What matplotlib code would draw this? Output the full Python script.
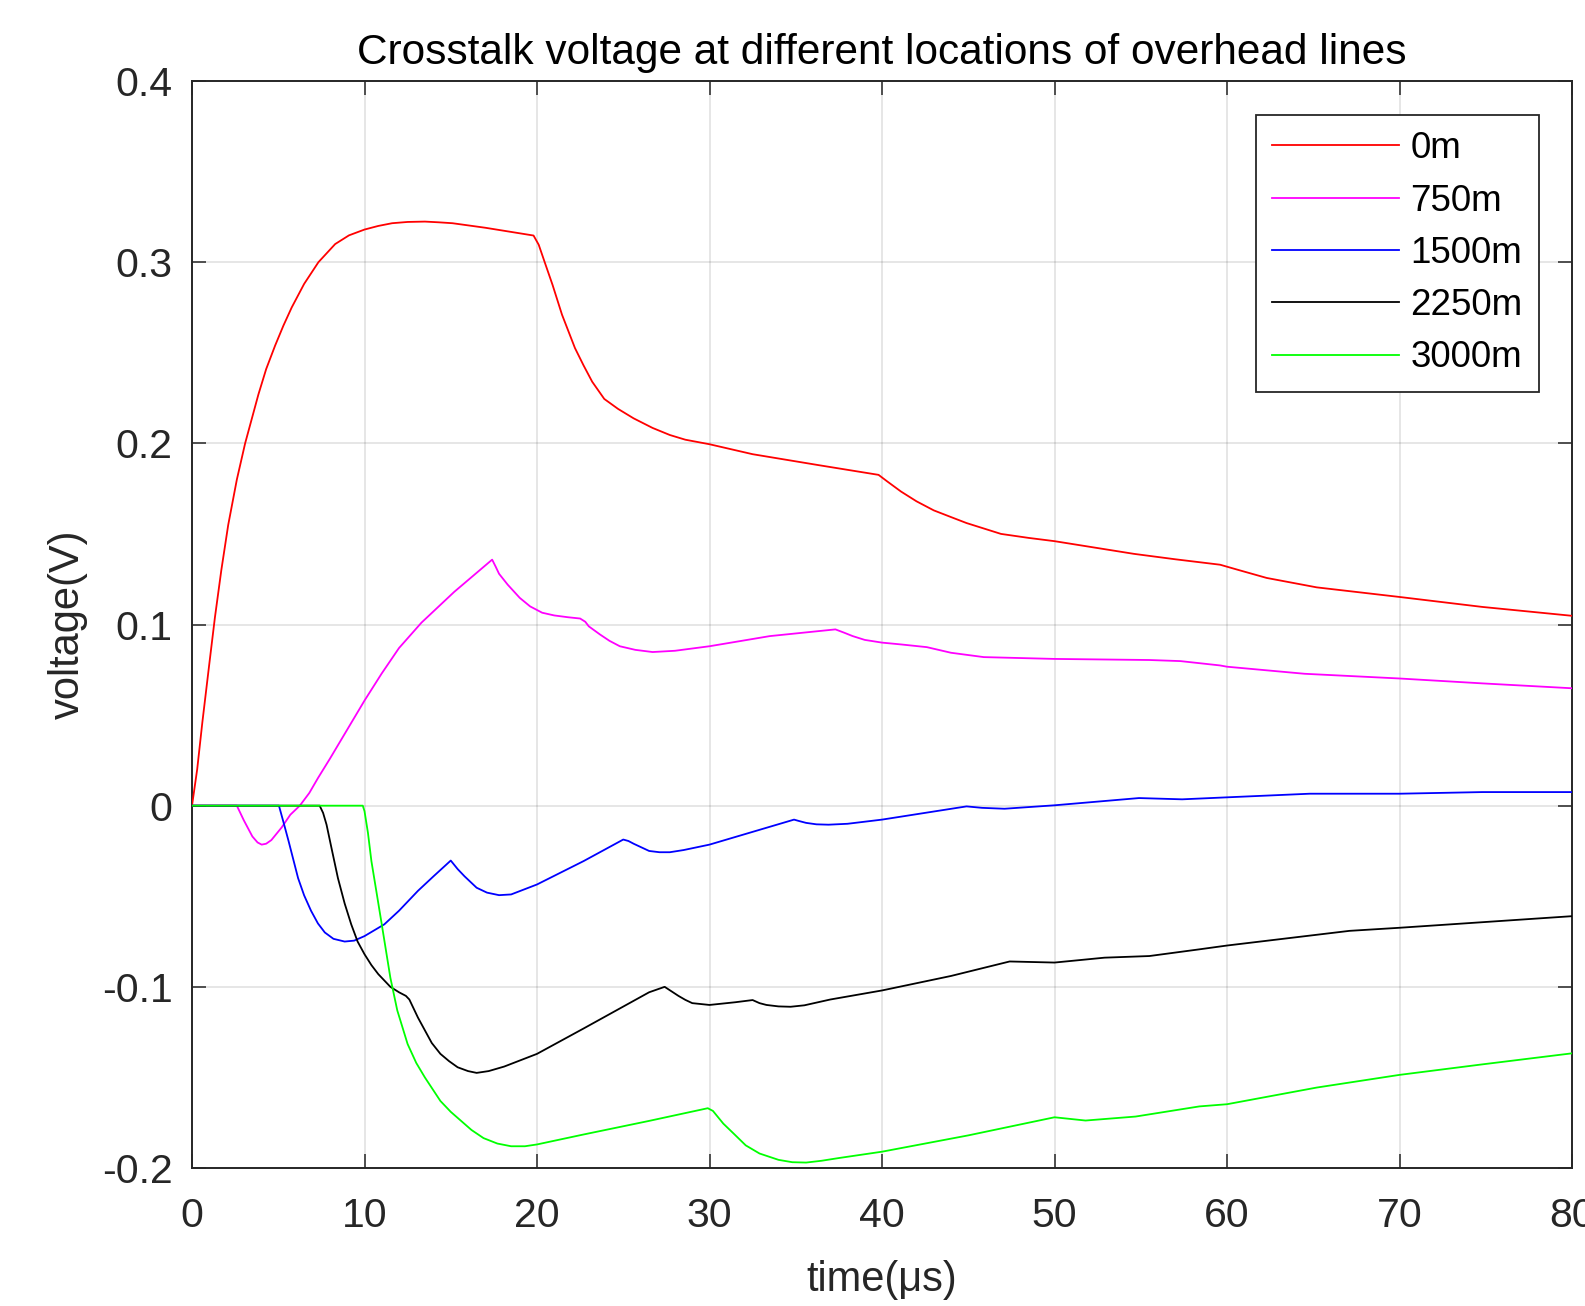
import matplotlib
matplotlib.use("Agg")
import matplotlib.pyplot as plt
from matplotlib.ticker import FixedLocator, FixedFormatter

plt.rcParams['font.family'] = ['Liberation Sans', 'DejaVu Sans']

# ---------------- data ----------------
t_0m = [0, 0.3, 0.6, 1.0, 1.33, 1.7, 2.1, 2.6, 3.08, 3.85, 4.3, 4.82, 5.3, 5.78, 6.5, 7.33,
        8.3, 9.1, 10, 10.8, 11.6, 12.5, 13.5, 14.3, 15.1, 17.0, 19.8, 20.1, 20.5, 20.9,
        21.45, 22.2, 22.7, 23.2, 23.9, 24.7, 25.6, 26.7, 27.7, 28.6, 30, 32.5, 36.3, 39.8,
        40.3, 41.1, 42.0, 43, 44, 44.9, 46.9, 48.5, 50, 54.6, 57, 59.6, 60.7, 62.3, 65.2,
        70, 74.8, 80]
v_0m = [0, 0.02, 0.046, 0.078, 0.104, 0.13, 0.155, 0.18, 0.2, 0.227, 0.241, 0.254, 0.265,
        0.275, 0.288, 0.30, 0.31, 0.3148, 0.318, 0.320, 0.3215, 0.3222, 0.3224, 0.322,
        0.3215, 0.319, 0.3147, 0.3096, 0.2985, 0.2875, 0.271, 0.2526, 0.243, 0.234, 0.2245,
        0.219, 0.2138, 0.2085, 0.2046, 0.202, 0.1995, 0.194, 0.188, 0.1826, 0.179, 0.1734,
        0.168, 0.163, 0.1593, 0.156, 0.150, 0.1478, 0.146, 0.139, 0.136, 0.133, 0.130,
        0.1257, 0.1205, 0.1152, 0.1097, 0.1048]

t_750m = [0, 2.6, 2.8, 3.0, 3.5, 3.8, 4.04, 4.3, 4.6, 5.2, 5.7, 6.25, 6.8, 7.3, 8, 9, 10,
          11, 12, 13.3, 15.2, 17.4, 17.6, 17.8, 18.3, 19.0, 19.6, 20.3, 21, 21.8, 22.5,
          22.8, 23.0, 23.65, 24.2, 24.8, 25.7, 26.7, 28, 30, 33.5, 37.3, 37.8, 38.3, 39,
          40, 41.1, 42.1, 42.6, 44, 45.9, 50, 55.5, 57.3, 59.6, 60, 64.5, 70, 74.8, 80]
v_750m = [0, 0, -0.004, -0.008, -0.017, -0.0203, -0.0215, -0.021, -0.019, -0.012, -0.005,
          0, 0.007, 0.0152, 0.026, 0.042, 0.058, 0.073, 0.087, 0.101, 0.118, 0.1358, 0.132,
          0.128, 0.122, 0.1147, 0.110, 0.1065, 0.105, 0.104, 0.1033, 0.1015, 0.099, 0.0945,
          0.091, 0.088, 0.086, 0.0848, 0.0855, 0.088, 0.0936, 0.0973, 0.0955, 0.0936,
          0.0915, 0.090, 0.089, 0.088, 0.0875, 0.0844, 0.082, 0.081, 0.0804, 0.0798,
          0.0774, 0.0767, 0.0728, 0.0702, 0.0675, 0.0648]

t_1500m = [0, 5.04, 5.3, 5.6, 6.15, 6.5, 6.9, 7.3, 7.7, 8.2, 8.85, 9.4, 10, 11.15, 12,
           13.1, 14, 15.0, 15.4, 15.8, 16.5, 17.1, 17.8, 18.5, 20, 22.7, 25.0, 25.3, 25.6,
           26.5, 27.1, 27.7, 28.5, 30, 34.9, 35.2, 35.6, 36.2, 36.9, 38, 40, 44.9, 45.8,
           47.1, 50, 54.9, 57.4, 60, 64.8, 70, 74.8, 80]
v_1500m = [0, 0, -0.009, -0.0196, -0.040, -0.0495, -0.058, -0.065, -0.070, -0.0735, -0.075,
           -0.0745, -0.072, -0.0655, -0.058, -0.047, -0.039, -0.0303, -0.035, -0.039,
           -0.0453, -0.048, -0.0494, -0.049, -0.0435, -0.0306, -0.0187, -0.0195, -0.021,
           -0.025, -0.0257, -0.0257, -0.0245, -0.0215, -0.0077, -0.0085, -0.0095, -0.0103,
           -0.0105, -0.010, -0.0077, -0.0004, -0.0012, -0.0017, 0.0002, 0.0042, 0.0035,
           0.0046, 0.0066, 0.0066, 0.0075, 0.0075]

t_2250m = [0, 7.4, 7.6, 7.8, 8.1, 8.46, 8.85, 9.23, 9.6, 10, 10.4, 10.8, 11.5, 12.0, 12.4,
           12.6, 12.8, 13.1, 13.5, 13.9, 14.4, 14.9, 15.4, 16.0, 16.5, 17.2, 18.1, 20, 22.7,
           26.5, 27.4, 27.8, 28.2, 28.6, 29, 30, 31.5, 32.5, 32.9, 33.3, 34.0, 34.7, 35.5,
           37, 40, 44, 47.4, 50, 52.9, 55.5, 58.4, 60, 67.1, 70, 80]
v_2250m = [0, 0, -0.004, -0.0105, -0.024, -0.040, -0.054, -0.0655, -0.075, -0.082, -0.088,
           -0.093, -0.100, -0.103, -0.105, -0.107, -0.111, -0.117, -0.124, -0.131, -0.137,
           -0.141, -0.1444, -0.1465, -0.1475, -0.1465, -0.144, -0.137, -0.123, -0.103,
           -0.100, -0.1025, -0.105, -0.1072, -0.109, -0.110, -0.1085, -0.1073, -0.109,
           -0.110, -0.1108, -0.111, -0.1102, -0.107, -0.102, -0.094, -0.086, -0.0866,
           -0.0839, -0.083, -0.0793, -0.0772, -0.0691, -0.0674, -0.061]

t_3000m = [0, 9.9, 10.0, 10.2, 10.4, 10.7, 11.0, 11.5, 11.9, 12.5, 13.0, 13.5, 14.4, 15.0,
           15.6, 16.2, 16.9, 17.7, 18.5, 19.3, 20, 22.7, 26.5, 29.9, 30.2, 30.8, 31.4,
           32.1, 32.9, 34, 34.8, 35.6, 36.5, 37.5, 40, 45, 50, 51.8, 54.7, 58.4, 60, 65.2,
           70, 74.8, 80]
v_3000m = [0, 0, -0.003, -0.015, -0.0306, -0.048, -0.0655, -0.095, -0.113, -0.1316, -0.142,
           -0.150, -0.163, -0.169, -0.174, -0.179, -0.1835, -0.1865, -0.188, -0.188, -0.187,
           -0.1815, -0.174, -0.167, -0.1685, -0.1755, -0.181, -0.1875, -0.192, -0.1955,
           -0.1968, -0.197, -0.196, -0.1945, -0.191, -0.182, -0.172, -0.1738, -0.1716,
           -0.166, -0.1648, -0.1556, -0.1486, -0.1428, -0.1367]

series_labels = ['0m', '750m', '1500m', '2250m', '3000m']
series_colors = ['#ff0000', '#ff00ff', '#0000ff', '#000000', '#00ff00']

x_ticks = [0, 10, 20, 30, 40, 50, 60, 70, 80]
x_tick_labels = ['0', '10', '20', '30', '40', '50', '60', '70', '80']
y_ticks = [-0.2, -0.1, 0, 0.1, 0.2, 0.3, 0.4]
y_tick_labels = ['-0.2', '-0.1', '0', '0.1', '0.2', '0.3', '0.4']

title = 'Crosstalk voltage at different locations of overhead lines'
x_label = 'time(\u03bcs)'
y_label = 'voltage(V)'

# ---------------- figure ----------------
fig = plt.figure(figsize=(15.85, 13.06), dpi=100)
ax = fig.add_axes([192 / 1585, 1 - 1168 / 1306, 1380 / 1585, 1087 / 1306])

ts = [t_0m, t_750m, t_1500m, t_2250m, t_3000m]
vs = [v_0m, v_750m, v_1500m, v_2250m, v_3000m]
for t, v, lab, c in zip(ts, vs, series_labels, series_colors):
    ax.plot(t, v, color=c, lw=1.3, label=lab, zorder=3, solid_joinstyle='round')

ax.set_xlim(0, 80)
ax.set_ylim(-0.2, 0.4)
ax.xaxis.set_major_locator(FixedLocator(x_ticks))
ax.xaxis.set_major_formatter(FixedFormatter(x_tick_labels))
ax.yaxis.set_major_locator(FixedLocator(y_ticks))
ax.yaxis.set_major_formatter(FixedFormatter(y_tick_labels))

spine_c = '#262626'
for s in ax.spines.values():
    s.set_color(spine_c)
    s.set_linewidth(1.4)

ax.tick_params(axis='both', which='major', direction='in', length=10, width=1.1,
               color=spine_c, labelcolor='#262626', labelsize=29.5,
               top=True, right=True)
ax.tick_params(axis='x', pad=21)
ax.tick_params(axis='y', pad=14)

ax.grid(True, color='#000000', alpha=0.13, lw=1.1)
ax.set_axisbelow(True)

ax.set_title(title, fontsize=30.5, color='#000000', pad=12)
ax.set_xlabel(x_label, fontsize=30, color='#262626', labelpad=18)
ax.set_ylabel(y_label, fontsize=30, color='#262626', labelpad=10)

leg = ax.legend(loc='upper right', bbox_to_anchor=(0.976, 0.969), borderaxespad=0,
                fontsize=26.5, frameon=True, fancybox=False, framealpha=1,
                edgecolor='#262626', handlelength=3.45, handletextpad=0.3,
                labelspacing=0.47, borderpad=0.45)
leg.get_frame().set_linewidth(1.3)
for txt in leg.get_texts():
    txt.set_color('#000000')

fig.savefig('out.png', dpi=100)
